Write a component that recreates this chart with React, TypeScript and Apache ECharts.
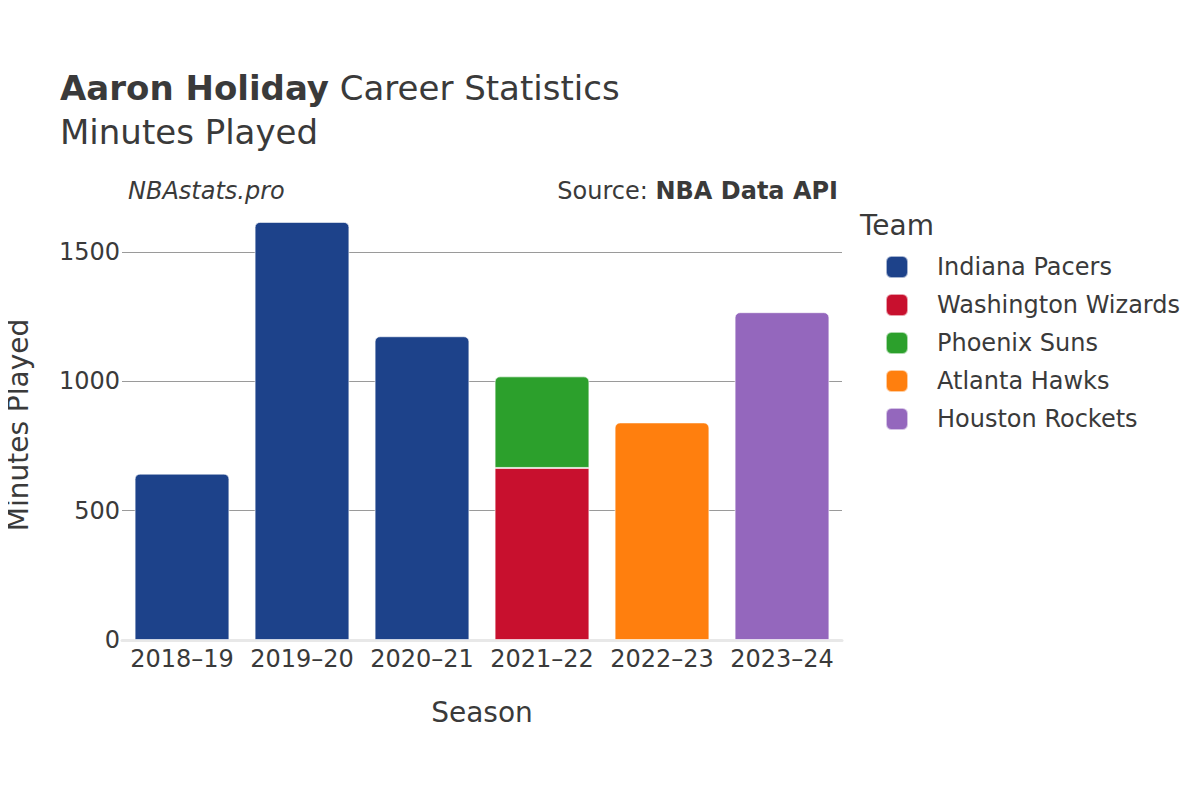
import React, { useEffect, useRef } from "react";
import * as echarts from "echarts";

const seasons = ["2018–19", "2019–20", "2020–21", "2021–22", "2022–23", "2023–24"];
const teams = ["Indiana Pacers", "Washington Wizards", "Phoenix Suns", "Atlanta Hawks", "Houston Rockets"];
const teamColors = ["#1d428a", "#c8102e", "#2ca02c", "#ff7f0e", "#9467bd"];
const indianaPacers = [643, 1616, 1174, null, null, null];
const washingtonWizards = [null, null, null, 665, null, null];
const phoenixSuns = [null, null, null, 354, null, null];
const atlantaHawks = [null, null, null, null, 841, null];
const houstonRockets = [null, null, null, null, null, 1267];
const gridValues = [500, 1000, 1500];

const FONT = "DejaVu Sans";

export default function App() {
  const ref = useRef<HTMLDivElement>(null);
  useEffect(() => {
    const chart = echarts.init(ref.current!, null, { renderer: "svg" });
    const seriesData = [indianaPacers, washingtonWizards, phoenixSuns, atlantaHawks, houstonRockets];
    const series: any[] = seriesData.map((d, i) => ({
      name: teams[i],
      type: "bar",
      stack: "total",
      barWidth: "79%",
      data: d,
      itemStyle: {
        color: teamColors[i],
        borderColor: "rgba(255,255,255,0.6)",
        borderWidth: 1,
        borderRadius: i === 1 ? 0 : [5, 5, 0, 0],
      },
      ...(i === 0
        ? {
            markLine: {
              silent: true,
              symbol: "none",
              label: { show: false },
              lineStyle: { color: "#9a9a9a", width: 1, type: "solid" },
              data: gridValues.map((v) => ({ yAxis: v })),
              z: 0,
            },
          }
        : {}),
    }));
    chart.setOption({
      animation: false,
      textStyle: { fontFamily: FONT },
      title: [
        {
          text: "{b|Aaron Holiday} Career Statistics",
          left: 55,
          top: 66,
          textStyle: {
            fontFamily: FONT,
            fontSize: 34,
            fontWeight: "normal",
            color: "#3a3a3a",
            rich: {
              b: { fontFamily: FONT, fontSize: 34, fontWeight: "bold", color: "#3a3a3a" },
            },
          },
        },
        {
          text: "Minutes Played",
          left: 55,
          top: 110,
          textStyle: { fontFamily: FONT, fontSize: 34, fontWeight: "normal", color: "#3a3a3a" },
        },
      ],
      graphic: [
        {
          type: "text",
          left: 128,
          top: 179,
          style: { text: "NBAstats.pro", font: `italic 24px ${FONT}`, fill: "#3a3a3a" },
        },
        {
          type: "text",
          right: 362,
          top: 179,
          style: {
            text: "{n|Source: }{b|NBA Data API}",
            rich: {
              n: { fontFamily: FONT, fontSize: 24, fill: "#3a3a3a" },
              b: { fontFamily: FONT, fontSize: 24, fontWeight: "bold", fill: "#3a3a3a" },
            },
          },
        },
        {
          type: "text",
          left: 860,
          top: 211,
          style: { text: "Team", font: `28px ${FONT}`, fill: "#3a3a3a" },
        },
      ],
      legend: {
        orient: "vertical",
        left: 880,
        top: 250,
        itemWidth: 22,
        itemHeight: 22,
        itemGap: 14,
        icon: "roundRect",
        data: teams,
        selectedMode: false,
        textStyle: { fontFamily: FONT, fontSize: 24, color: "#3a3a3a", padding: [0, 0, 0, 24] },
      },
      grid: {
        left: 122,
        right: 358,
        top: 210,
        bottom: 160,
        containLabel: false,
        outerBoundsMode: "none",
      },
      xAxis: {
        type: "category",
        data: seasons,
        name: "Season",
        nameLocation: "middle",
        nameGap: 58,
        nameTextStyle: { fontFamily: FONT, fontSize: 28, color: "#3a3a3a" },
        axisLine: { show: true, lineStyle: { color: "#e8e8e8", width: 3 } },
        axisTick: { show: false },
        axisLabel: { fontFamily: FONT, fontSize: 24, color: "#3a3a3a", margin: 7, interval: 0 },
      },
      yAxis: {
        type: "value",
        min: 0,
        max: 1662,
        interval: 500,
        name: "Minutes Played",
        nameLocation: "middle",
        nameGap: 90,
        nameTextStyle: { fontFamily: FONT, fontSize: 28, color: "#3a3a3a" },
        splitLine: { show: false },
        axisLine: { show: false },
        axisTick: { show: false },
        axisLabel: {
          fontFamily: FONT,
          fontSize: 24,
          color: "#3a3a3a",
          showMaxLabel: false,
          margin: 2,
          formatter: (v: number) => String(v),
        },
      },
      series,
    });
    return () => chart.dispose();
  }, []);
  return <div ref={ref} style={{ width: 1200, height: 800, marginLeft: -8, marginTop: -8 }} />;
}
